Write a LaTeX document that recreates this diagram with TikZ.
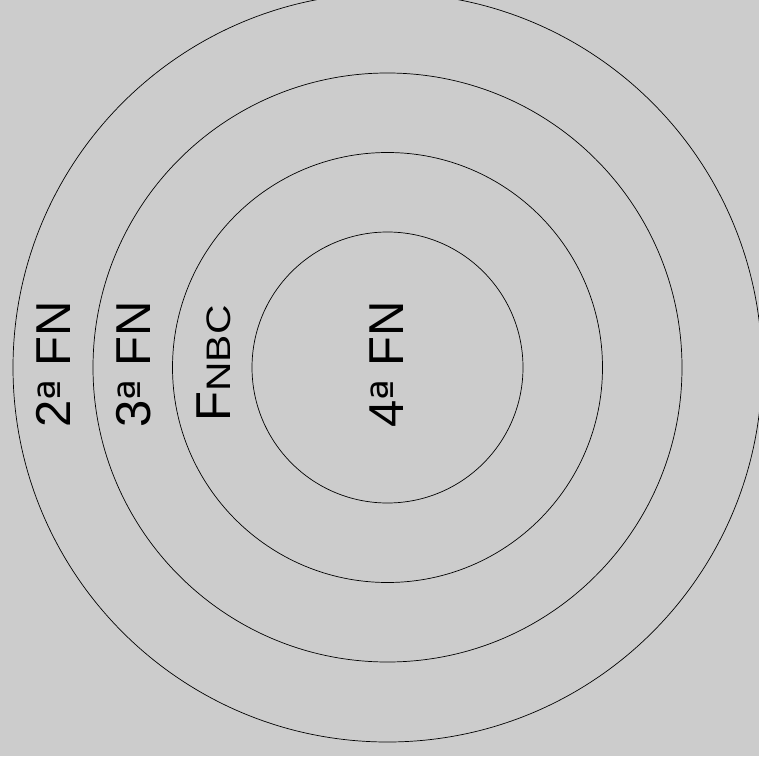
\documentclass[tikz,border=0pt]{standalone}
\usepackage{fontspec}
\setmainfont{Liberation Sans}
\newfontfamily\ordfont{DejaVu Sans}
\definecolor{bggray}{RGB}{204,204,204}
\newcommand{\orda}{{\ordfont\fontsize{44}{44}\selectfont ª}}

\begin{document}
\begin{tikzpicture}[x=1pt,y=1pt,
    level/.style={rotate=90,anchor=base,inner sep=0pt,font=\fontsize{49}{49}\selectfont},
    ring/.style={draw=black,line width=0.7pt}]

    % Background
    \clip (0,0) rectangle (759,756);
    \fill[bggray] (0,0) rectangle (759,756);

    % Rings
    \coordinate (Center) at (387.5,388.5);
    \draw[ring] (Center) circle (135.5);
    \draw[ring] (Center) circle (215);
    \draw[ring] (Center) circle (294.5);
    \draw[ring] (Center) circle (374.5);

    % Labels
    \node[level] at (70,391.5) (FN2) {2\orda{} FN};
    \node[level] at (150,391.5) (FN3) {3\orda{} FN};
    \node[level] at (230,392.5) (FNBC) {F\scalebox{1.2}[1]{\fontsize{34}{34}\selectfont NBC}};
    \node[level] at (403,391.5) (FN4) {4\orda{} FN};

\end{tikzpicture}
\end{document}
